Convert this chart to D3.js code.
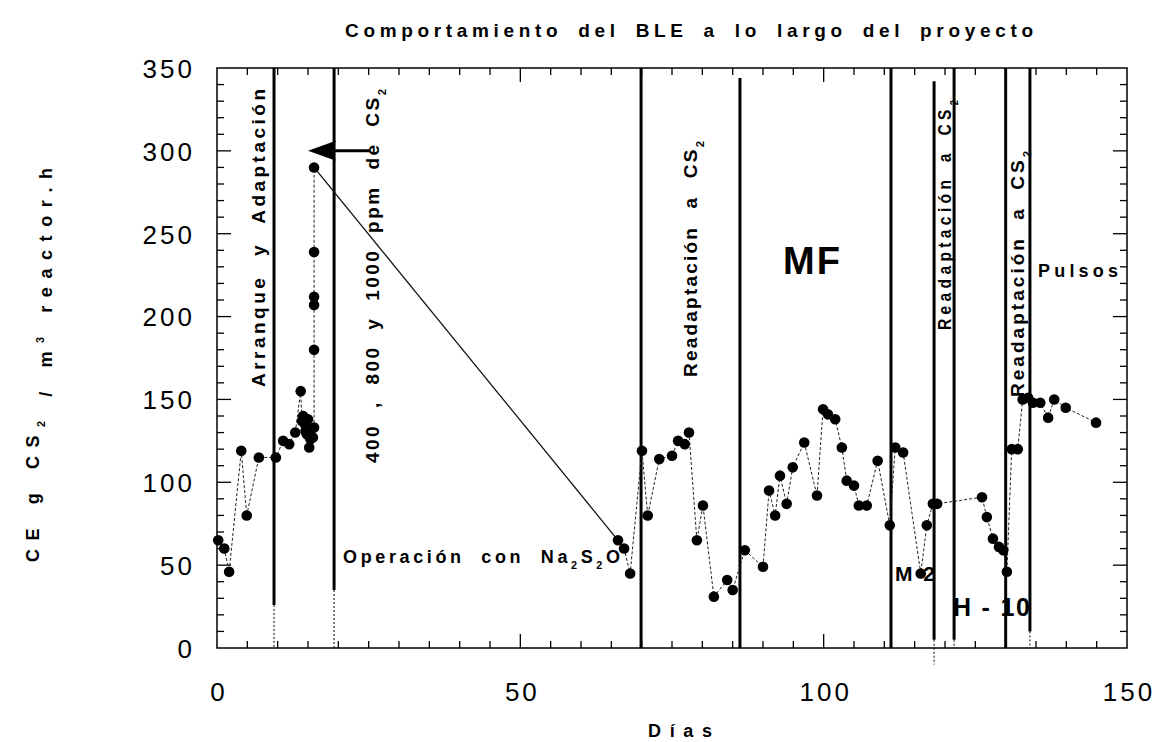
<!DOCTYPE html>
<html><head><meta charset="utf-8">
<script src="https://cdn.jsdelivr.net/npm/d3@7"></script>
<style>
html,body{margin:0;padding:0;background:#fff;}
svg{display:block;}
text{font-family:"Liberation Sans",Arial,sans-serif;fill:#000;}
.b{font-weight:bold;}
</style></head>
<body>
<svg id="chart" width="1163" height="742"></svg>
<script>
// ---------- DATA ----------
const xTicks = [0, 50, 100, 150];
const yTicks = [0, 50, 100, 150, 200, 250, 300, 350];

// Start-up phase (days 0-16)
const days1   = [0.2,1.2,2.0,4.0,4.9,6.9,9.7,10.9,11.9,12.9,13.8,14.0,14.2,14.5,14.6,14.8,15.0,15.2,15.4,15.5,15.8,16.0,16.0,16.0,16.0,16.0,16.0];
const values1 = [65,60,46,119,80,115,115,125,123,130,155,137,140,135,131,129,138,121,126,132,127,133,180,207,212,239,290];

// Gap bridge (solid line)
const bridgeDays   = [16.0, 66.1];
const bridgeValues = [290, 65];

// Later phases (day 66 onward)
const days2   = [66.1,67.1,68.1,70.05,71.0,72.9,75.0,76.0,77.1,77.8,79.1,80.1,81.9,84.1,85.0,87.0,90.0,91.0,92.0,92.8,93.9,94.9,96.8,98.9,99.9,100.7,101.9,103.0,103.8,105.0,105.8,107.1,108.9,110.9,111.8,113.1,116.0,117.0,118.0,118.7,126.1,126.9,127.9,128.9,129.6,130.2,131.0,132.0,132.8,133.7,134.5,135.7,137.0,138.0,139.9,144.9];
const values2 = [65,60,45,119,80,114,116,125,123,130,65,86,31,41,35,59,49,95,80,104,87,109,124,92,144,141,138,121,101,98,86,86,113,74,121,118,45,74,87,87,91,79,66,61,59,46,120,120,150,151,148,148,139,150,145,136];

// Phase boundaries: day, thick top value, thick bottom value, dotted bottom value
const phaseDays    = [9.4, 19.3, 69.9, 86.2, 111.1, 118.2, 121.5, 130.0, 134.0];
const phaseTop     = [350, 350, 350, 344, 350, 342, 350, 350, 350];
const phaseBottom  = [26, 35, 0, 0, 0, 5, 5, 0, 10];
const phaseDotEnd  = [0, 0, 0, 0, 0, -10, 0, 0, 0];

// ---------- LAYOUT ----------
const svg = d3.select("#chart");
const L = 217, R = 1127, T = 68, B = 648;
const x = d3.scaleLinear().domain([0,150]).range([L,R]);
const y = d3.scaleLinear().domain([0,350]).range([B,T]);

// Phase lines
phaseDays.forEach((d,i)=>{
  svg.append("line").attr("x1",x(d)).attr("x2",x(d))
    .attr("y1",y(phaseTop[i])).attr("y2",y(phaseBottom[i]))
    .attr("stroke","#000").attr("stroke-width",3);
  if (phaseBottom[i] !== phaseDotEnd[i]) {
    svg.append("line").attr("x1",x(d)).attr("x2",x(d))
      .attr("y1",y(phaseBottom[i])).attr("y2",y(phaseDotEnd[i]))
      .attr("stroke","#000").attr("stroke-width",1).attr("stroke-dasharray","2,2");
  }
});

// Frame
svg.append("rect").attr("x",L).attr("y",T).attr("width",R-L).attr("height",B-T)
  .attr("fill","none").attr("stroke","#000").attr("stroke-width",1.5);

// Inward ticks on all four sides
function tickMarks(){
  const g = svg.append("g").attr("stroke","#000").attr("stroke-width",1.3);
  d3.range(5,150,5).forEach(v=>{
    const len = (v%50===0)?14:7;
    g.append("line").attr("x1",x(v)).attr("x2",x(v)).attr("y1",B).attr("y2",B-len);
    g.append("line").attr("x1",x(v)).attr("x2",x(v)).attr("y1",T).attr("y2",T+len);
  });
  d3.range(10,350,10).forEach(v=>{
    const len = (v%50===0)?14:7;
    g.append("line").attr("y1",y(v)).attr("y2",y(v)).attr("x1",L).attr("x2",L+len);
    g.append("line").attr("y1",y(v)).attr("y2",y(v)).attr("x1",R).attr("x2",R-len);
  });
}
tickMarks();

const xAxis = d3.axisBottom(x).tickValues(xTicks).tickSize(0).tickPadding(0);
const gx = svg.append("g").attr("transform",`translate(0,${B})`).call(xAxis);
gx.select(".domain").remove();
gx.selectAll("text").attr("y",53).attr("dy",null).attr("font-size",26)
  .style("letter-spacing","3px").attr("dx",1.5)
  .style("font-family","'Liberation Sans',Arial,sans-serif");

const yAxis = d3.axisLeft(y).tickValues(yTicks).tickSize(0).tickPadding(0);
const gy = svg.append("g").attr("transform",`translate(${L},0)`).call(yAxis);
gy.select(".domain").remove();
gy.selectAll("text").attr("x",-22).attr("dy","0.36em").attr("font-size",26)
  .style("letter-spacing","3px")
  .style("font-family","'Liberation Sans',Arial,sans-serif");

// Data lines
const line = d3.line().x(d=>x(d[0])).y(d=>y(d[1]));
const s1 = days1.map((d,i)=>[d,values1[i]]);
const s2 = days2.map((d,i)=>[d,values2[i]]);
const br = bridgeDays.map((d,i)=>[d,bridgeValues[i]]);
svg.append("path").datum(s1).attr("d",line).attr("fill","none")
  .attr("stroke","#222").attr("stroke-width",1).attr("stroke-dasharray","3,2");
svg.append("path").datum(s2).attr("d",line).attr("fill","none")
  .attr("stroke","#222").attr("stroke-width",1).attr("stroke-dasharray","3,2");
svg.append("path").datum(br).attr("d",line).attr("fill","none")
  .attr("stroke","#111").attr("stroke-width",1.3);

// Markers
svg.append("g").selectAll("circle").data(s1.concat(s2)).join("circle")
  .attr("cx",d=>x(d[0])).attr("cy",d=>y(d[1])).attr("r",5.3).attr("fill","#000");

// Arrow at 300
const ay = y(300);
svg.append("line").attr("x1",x(25.2)).attr("x2",x(19)).attr("y1",ay).attr("y2",ay)
  .attr("stroke","#000").attr("stroke-width",3);
svg.append("path").attr("d",`M${x(15.0)},${ay} L${x(19.6)},${ay-10} L${x(19.0)},${ay} L${x(19.6)},${ay+10} Z`).attr("fill","#000");

// ---------- TEXT ----------
// mode "letters" (default): fill target with letter-spacing (word spacing ws fixed)
// mode "words": fill target with word-spacing (letter spacing ls fixed)
function addText(o){
  const sx = o.sx || 1;
  const t = svg.append("text").attr("class","b")
    .attr("font-size",o.size).attr("text-anchor","start")
    .attr("transform",`translate(${o.x},${o.y})${o.rot?` rotate(${o.rot})`:""}${sx!==1?` scale(${sx},1)`:""}`)
    .style("letter-spacing","0px").style("word-spacing","0px");
  let full = "";
  o.parts.forEach(p=>{
    const ts = t.append("tspan").text(p.t);
    full += p.t;
    if (p.sub) ts.attr("font-size",o.size*0.6).attr("dy",o.size*0.35);
    else if (p.sup) ts.attr("font-size",o.size*0.6).attr("dy",-o.size*0.45);
    else if (p.reset) ts.attr("dy",p.reset);
  });
  if (o.len) {
    const nat = t.node().getComputedTextLength();
    const target = o.len / sx;
    const spaces = (full.match(/ /g)||[]).length;
    const n = full.length;
    if (o.mode === "words" && spaces > 0) {
      const ls = o.ls || 0;
      t.style("letter-spacing", ls+"px");
      t.style("word-spacing", ((target - nat - ls*(n-1))/spaces)+"px");
    } else {
      const ws = o.ws || 0;
      t.style("word-spacing", ws+"px");
      t.style("letter-spacing", ((target - nat - ws*spaces)/Math.max(1,n-1))+"px");
    }
  }
  return t;
}

// Title
addText({x:345,y:37,size:19,ws:6,len:688,parts:[{t:"Comportamiento del BLE a lo largo del proyecto"}]});
// Axis titles
addText({x:648,y:737,size:18,len:64,parts:[{t:"Días"}]});
addText({x:39,y:562,rot:-90,size:18,ws:2,len:394,parts:[
  {t:"CE g CS"},{t:"2",sub:true},{t:" / m",reset:18*0.35},{t:"3",sup:true},{t:" reactor.h",reset:18*0.45}]});

// Phase labels (vertical)
addText({x:265,y:387,rot:-90,size:19,ws:10,len:298,parts:[{t:"Arranque y Adaptación"}]});
addText({x:379,y:463,rot:-90,size:19,ws:8,len:374,parts:[
  {t:"400 , 800 y 1000 ppm de CS"},{t:"2",sub:true}]});
addText({x:697,y:377,rot:-90,size:19,ws:10,len:236,parts:[
  {t:"Readaptación a CS"},{t:"2",sub:true}]});
addText({x:951,y:330,rot:-90,size:19,sx:0.82,ws:6,len:230,parts:[
  {t:"Readaptación a CS"},{t:"2",sub:true}]});
addText({x:1024,y:397,rot:-90,size:19,ws:8,len:246,parts:[
  {t:"Readaptación a CS"},{t:"2",sub:true}]});

// Horizontal labels
addText({x:343,y:563,size:18,ws:8,len:277,parts:[
  {t:"Operación con Na"},{t:"2",sub:true},{t:"S",reset:-18*0.35},{t:"2",sub:true},{t:"O",reset:-18*0.35}]});
addText({x:783,y:274,size:38,len:57,parts:[{t:"MF"}]});
addText({x:895,y:581,size:21,len:40,parts:[{t:"M 2"}]});
addText({x:953,y:616,size:25,len:77,parts:[{t:"H - 10"}]});
addText({x:1038,y:277,size:18,len:80,parts:[{t:"Pulsos"}]});
</script>
</body></html>
